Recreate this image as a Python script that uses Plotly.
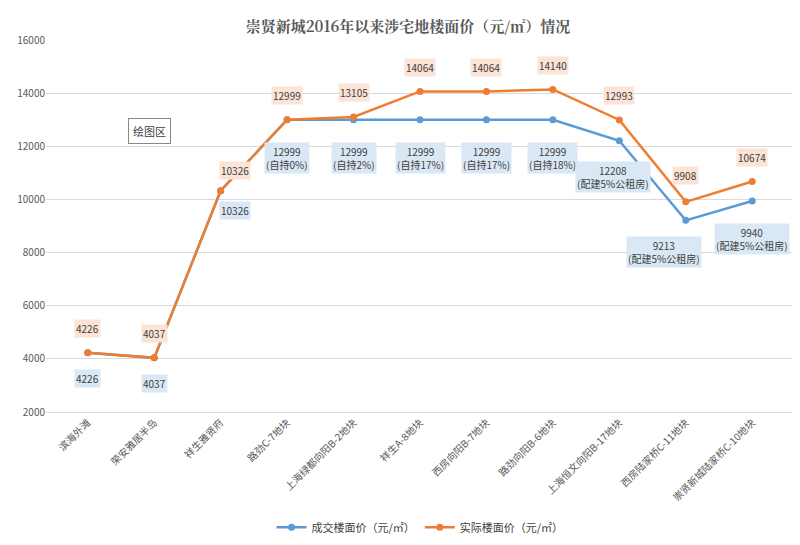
import plotly.graph_objects as go

categories = ["滨海外滩", "荣安雅居半岛", "祥生雅贤府", "路劲C-7地块", "上海绿都向阳B-2地块", "祥生A-8地块",
              "西房向阳B-7地块", "路劲向阳B-6地块", "上海恒文向阳B-17地块", "西房陆家桥C-11地块", "崇贤新城陆家桥C-10地块"]
deal_price = [4226, 4037, 10326, 12999, 12999, 12999, 12999, 12999, 12208, 9213, 9940]
real_price = [4226, 4037, 10326, 12999, 13105, 14064, 14064, 14140, 12993, 9908, 10674]
deal_labels = ["4226", "4037", "10326", "12999<br>(自持0%)", "12999<br>(自持2%)", "12999<br>(自持17%)",
               "12999<br>(自持17%)", "12999<br>(自持18%)", "12208<br>(配建5%公租房)", "9213<br>(配建5%公租房)", "9940<br>(配建5%公租房)"]
deal_offsets = [(0, 26), (0, 26), (14, 20), (0, 38), (0, 38), (0, 38), (0, 38), (0, 38), (-6, 36), (-22, 32), (0, 38)]
real_offsets = [(0, -24), (0, -24), (14, -20), (0, -24), (0, -24), (0, -24), (0, -24), (0, -24), (0, -24), (0, -26), (0, -24)]

BLUE = "#5b9bd5"
ORANGE = "#ed7d31"
fig = go.Figure()
fig.add_trace(go.Scatter(x=categories, y=deal_price, name="成交楼面价（元/㎡）", mode="lines+markers",
                         line=dict(color=BLUE, width=2.5), marker=dict(size=7, color=BLUE)))
fig.add_trace(go.Scatter(x=categories, y=real_price, name="实际楼面价（元/㎡）", mode="lines+markers",
                         line=dict(color=ORANGE, width=2.5), marker=dict(size=7, color=ORANGE)))

for i, c in enumerate(categories):
    fig.add_annotation(x=c, y=deal_price[i], text=deal_labels[i], showarrow=False,
                       xshift=deal_offsets[i][0], yshift=-deal_offsets[i][1], borderpad=1,
                       bgcolor="#dae8f5", font=dict(size=10, color="#404040"))
    fig.add_annotation(x=c, y=real_price[i], text=str(real_price[i]), showarrow=False,
                       xshift=real_offsets[i][0], yshift=-real_offsets[i][1], borderpad=1,
                       bgcolor="#fbe3d5", font=dict(size=10, color="#404040"))

fig.add_annotation(xref="paper", yref="paper", x=0.11, y=0.79, text="绘图区", showarrow=False,
                   bordercolor="#888", borderwidth=1, bgcolor="white", borderpad=4,
                   font=dict(size=11, color="#404040"))

fig.update_layout(
    width=800, height=545, paper_bgcolor="white", plot_bgcolor="white",
    margin=dict(l=38, r=14, t=32, b=141, autoexpand=False),
    font=dict(family="Noto Sans CJK SC", color="#595959"),
    title=dict(text="<b>崇贤新城2016年以来涉宅地楼面价（元/㎡）情况</b>", x=0.5, y=0.975, xanchor="center",
               font=dict(size=15, color="#595959", family="Noto Serif CJK SC, Noto Sans CJK SC")),
    xaxis=dict(tickangle=-45, tickfont=dict(size=10, color="#595959"), showgrid=False, automargin=False,
               showline=True, linecolor="#d9d9d9", ticks=""),
    yaxis=dict(range=[2000, 16000], dtick=2000, tickformat="d", gridcolor="#d9d9d9", automargin=False,
               tickfont=dict(size=10, color="#595959"), showline=False, zeroline=False),
    legend=dict(orientation="h", x=0.5, xanchor="center", y=-0.31, yanchor="middle",
                font=dict(size=11, color="#404040")),
)
fig.write_html("out.html")
